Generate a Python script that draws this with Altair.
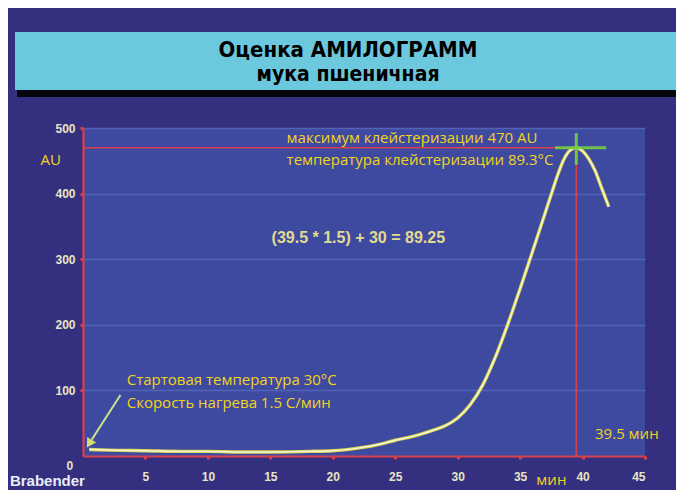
import altair as alt
import pandas as pd

# ---- data ----
curve_x = [0.5, 2, 5, 8, 10, 13, 15, 18, 20, 22, 24, 25, 26, 27, 28, 29, 30, 31, 32,
           33, 34, 35, 36, 37, 37.6, 38, 38.5, 39, 39.5, 40, 40.5, 41, 41.5, 42.1]
curve_y = [10, 9, 8, 7, 7, 6, 6, 7, 8, 12, 19, 24, 28, 33, 39, 46, 58, 78, 108,
           150, 200, 255, 312, 370, 405, 428, 452, 466, 470, 465, 453, 435, 410, 380]
x_ticks = [5, 10, 15, 20, 25, 30, 35, 40, 45]
y_ticks = [100, 200, 300, 400, 500]
peak_x, peak_y = 39.5, 470

title_lines = ["Оценка АМИЛОГРАММ", "мука пшеничная"]

curve = pd.DataFrame({"t": curve_x, "au": curve_y})

X = alt.Scale(domain=[0, 45], nice=False, zero=False)
Y = alt.Scale(domain=[0, 500], nice=False)

YELLOW = "#f2d41c"
RED = "#d8404e"
GREEN = "#72d040"

one = alt.Data(values=[{}])

# title band (decoration)
band_shadow = alt.Chart(one).mark_rect(color="#05060e").encode(
    x=alt.value(-66), x2=alt.value(595), y=alt.value(-40), y2=alt.value(-31))
band = alt.Chart(one).mark_rect(color="#6cc8dc").encode(
    x=alt.value(-68), x2=alt.value(601), y=alt.value(-96), y2=alt.value(-38))
t1 = alt.Chart(one).mark_text(text=title_lines[0], font="DejaVu Sans Condensed",
                              fontWeight="bold", fontSize=22, color="#000000").encode(
    x=alt.value(265), y=alt.value(-78))
t2 = alt.Chart(one).mark_text(text=title_lines[1], font="DejaVu Sans Condensed",
                              fontWeight="bold", fontSize=21, color="#000000").encode(
    x=alt.value(265), y=alt.value(-53))

# reference lines
hline = alt.Chart(pd.DataFrame({"x": [0], "x2": [peak_x], "y": [peak_y]})).mark_rule(
    color=RED, strokeWidth=1.6).encode(
    x=alt.X("x:Q", scale=X), x2="x2:Q", y=alt.Y("y:Q", scale=Y))
vline = alt.Chart(pd.DataFrame({"x": [peak_x], "y": [0], "y2": [peak_y]})).mark_rule(
    color=RED, strokeWidth=1.6).encode(
    x=alt.X("x:Q", scale=X), y=alt.Y("y:Q", scale=Y), y2="y2:Q")

# curve
axis_x = alt.Axis(values=x_ticks, title=None)
axis_y = alt.Axis(values=y_ticks, title=None)
outer = alt.Chart(curve).mark_line(color="#d6d448", strokeWidth=3.4, interpolate="monotone").encode(
    x=alt.X("t:Q", scale=X, axis=axis_x), y=alt.Y("au:Q", scale=Y, axis=axis_y))
inner = alt.Chart(curve).mark_line(color="#f6f4dc", strokeWidth=1.5, interpolate="monotone").encode(
    x=alt.X("t:Q", scale=X), y=alt.Y("au:Q", scale=Y))

# green cross
cross_h = alt.Chart(pd.DataFrame({"x": [37.8], "x2": [41.9], "y": [peak_y]})).mark_rule(
    color=GREEN, strokeWidth=3, opacity=0.9).encode(
    x=alt.X("x:Q", scale=X), x2="x2:Q", y=alt.Y("y:Q", scale=Y))
cross_v = alt.Chart(pd.DataFrame({"x": [peak_x], "y": [444], "y2": [492]})).mark_rule(
    color=GREEN, strokeWidth=3, opacity=0.9).encode(
    x=alt.X("x:Q", scale=X), y=alt.Y("y:Q", scale=Y), y2="y2:Q")

# arrow
arrow = alt.Chart(pd.DataFrame({"x": [3.0], "y": [93], "x2": [0.7], "y2": [25]})).mark_rule(
    color="#c8e08c", strokeWidth=2).encode(
    x=alt.X("x:Q", scale=X), y=alt.Y("y:Q", scale=Y), x2="x2:Q", y2="y2:Q")
arrow_head = alt.Chart(pd.DataFrame({"x": [0.5], "y": [19]})).mark_point(
    shape="triangle-up", filled=True, size=110, angle=212, color="#d0e070", opacity=1).encode(
    x=alt.X("x:Q", scale=X), y=alt.Y("y:Q", scale=Y))

# yellow annotations
notes = pd.DataFrame({
    "x": [16.3, 16.3, 3.5, 3.5, 41.0, 36.3, -3.4],
    "y": [485, 451, 116, 81, 33.5, -36, 451],
    "txt": ["максимум клейстеризации 470 AU", "температура клейстеризации 89.3°C",
            "Стартовая температура 30°C", "Скорость нагрева 1.5 С/мин",
            "39.5 мин", "мин", "AU"],
})
note_text = alt.Chart(notes).mark_text(align="left", baseline="middle", font="Open Sans",
                                       fontSize=15, color=YELLOW).encode(
    x=alt.X("x:Q", scale=X), y=alt.Y("y:Q", scale=Y), text="txt:N")

formula = alt.Chart(pd.DataFrame({"x": [15.1], "y": [332], "txt": ["(39.5 * 1.5) + 30 = 89.25"]})).mark_text(
    align="left", baseline="middle", font="Liberation Sans", fontWeight="bold",
    fontSize=16, color="#e2da92").encode(
    x=alt.X("x:Q", scale=X), y=alt.Y("y:Q", scale=Y), text="txt:N")

zero_lbl = alt.Chart(pd.DataFrame({"x": [-1.05], "y": [-15], "txt": ["0"]})).mark_text(
    align="center", baseline="middle", font="Liberation Sans", fontWeight="bold",
    fontSize=12, color="#e6e6c0").encode(
    x=alt.X("x:Q", scale=X), y=alt.Y("y:Q", scale=Y), text="txt:N")

brand = alt.Chart(pd.DataFrame({"x": [-5.85], "y": [-38], "txt": ["Brabender"]})).mark_text(
    align="left", baseline="middle", font="Liberation Sans", fontWeight="bold",
    fontSize=15, color="#e8ecf4").encode(
    x=alt.X("x:Q", scale=X), y=alt.Y("y:Q", scale=Y), text="txt:N")

chart = alt.layer(
    band_shadow, band, t1, t2, outer, inner, hline, vline, cross_h, cross_v,
    arrow, arrow_head, note_text, formula, zero_lbl, brand
).properties(
    width=562, height=328,
    padding={"left": 75, "top": 120, "right": 31, "bottom": 34},
    autosize=alt.AutoSizeParams(type="none"),
    background="#352f80",
).configure_view(
    fill="#3e4aa0", stroke=None
).configure_axis(
    domainColor=RED, domainWidth=2.2, tickColor=RED, tickWidth=3, tickSize=3,
    labelColor="#e6e6c0", labelFont="Liberation Sans", labelFontWeight="bold",
    labelFontSize=12, grid=False
).configure_axisY(
    grid=True, gridColor="#5868bc", gridWidth=1.5, gridOpacity=0.8, labelPadding=5
).configure_axisX(
    labelPadding=12
)

chart.save("out.html", embed_options={"renderer": "svg", "actions": False})
